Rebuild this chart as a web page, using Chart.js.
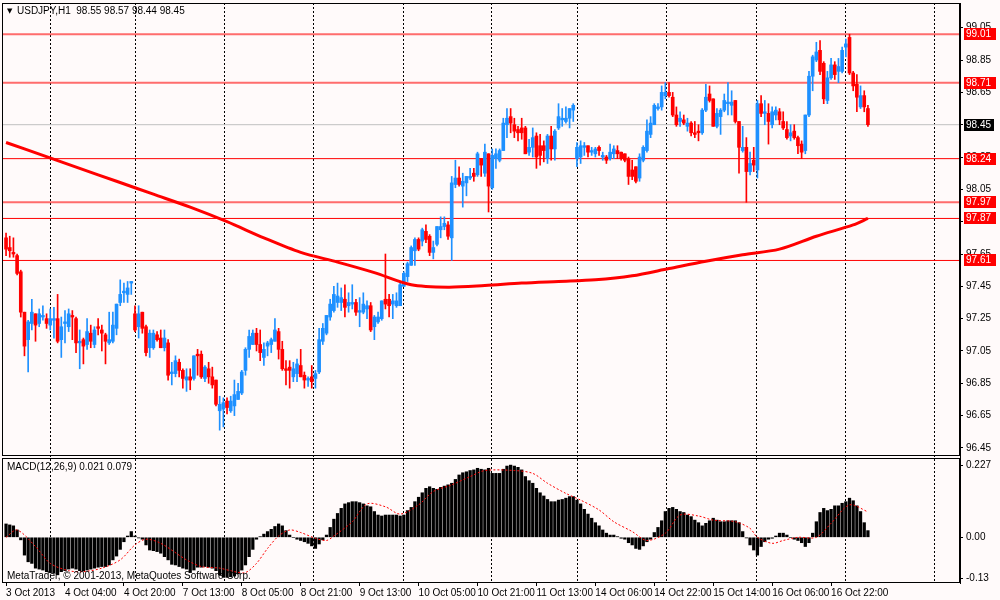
<!DOCTYPE html>
<html>
<head>
<meta charset="utf-8">
<script src="https://cdn.jsdelivr.net/npm/chart.js@4/dist/chart.umd.min.js"></script>
<style>
  html, body { margin: 0; padding: 0; background: #fffafa; }
  #chart { display: block; }
</style>
</head>
<body>
<canvas id="chart" width="1000" height="600"></canvas>
<script>
// USDJPY H1 candles (bar 0 = 3 Oct 2013)
const opens = [
  97.75,97.69,97.66,97.64,97.54,97.29,97.12,97.22,97.28,97.22,
  97.26,97.25,97.21,97.24,97.25,97.12,97.22,97.20,97.27,97.25,
  97.10,97.12,97.09,97.16,97.09,97.20,97.18,97.15,97.10,97.11,
  97.19,97.35,97.41,97.40,97.47,97.28,97.20,97.29,97.20,97.07,
  97.07,97.15,97.13,97.07,97.10,96.91,96.91,96.98,96.93,96.87,
  96.89,96.88,97.03,97.03,96.88,96.94,96.89,96.87,96.68,96.69,
  96.74,96.68,96.71,96.75,96.79,96.93,97.06,97.09,97.16,97.09,
  97.01,97.08,97.09,97.11,97.17,97.06,96.94,96.95,96.89,96.91,
  96.96,96.90,96.87,96.89,96.88,96.92,97.11,97.16,97.26,97.30,
  97.35,97.35,97.37,97.33,97.34,97.35,97.29,97.29,97.31,97.33,
  97.20,97.23,97.25,97.37,97.37,97.34,97.33,97.33,97.45,97.51,
  97.58,97.67,97.74,97.73,97.79,97.76,97.66,97.71,97.80,97.82,
  97.83,97.75,98.08,98.12,98.07,98.09,98.12,98.15,98.14,98.24,
  98.15,98.27,98.06,98.24,98.23,98.29,98.45,98.50,98.45,98.42,
  98.43,98.43,98.28,98.31,98.38,98.32,98.32,98.24,98.38,98.30,
  98.43,98.48,98.47,98.49,98.54,98.24,98.25,98.31,98.32,98.28,
  98.27,98.31,98.25,98.25,98.24,98.27,98.29,98.28,98.27,98.24,
  98.17,98.19,98.12,98.23,98.29,98.39,98.45,98.55,98.56,98.63,
  98.65,98.62,98.51,98.47,98.48,98.44,98.46,98.40,98.41,98.40,
  98.54,98.64,98.61,98.44,98.50,98.54,98.58,98.57,98.60,98.47,
  98.29,98.31,98.16,98.23,98.17,98.58,98.52,98.52,98.45,98.51,
  98.53,98.47,98.42,98.38,98.41,98.37,98.33,98.29,98.51,98.75,
  98.85,98.91,98.83,98.60,98.74,98.82,98.78,98.78,98.93,98.99,
  98.77,98.70,98.56,98.63,98.55
];
const highs = [
  97.78,97.76,97.75,97.65,97.55,97.29,97.24,97.37,97.28,97.31,
  97.33,97.28,97.31,97.32,97.40,97.26,97.30,97.31,97.30,97.26,
  97.18,97.13,97.25,97.21,97.20,97.25,97.21,97.16,97.29,97.29,
  97.34,97.49,97.47,97.48,97.48,97.33,97.33,97.29,97.21,97.18,
  97.18,97.17,97.18,97.18,97.12,96.98,97.02,97.00,96.94,96.94,
  96.94,97.02,97.06,97.05,96.96,96.98,96.95,96.87,96.77,96.76,
  96.76,96.77,96.87,96.85,96.93,97.07,97.18,97.18,97.19,97.18,
  97.10,97.11,97.13,97.25,97.19,97.11,96.99,96.99,96.98,97.00,
  97.06,96.92,96.89,96.96,96.93,97.19,97.22,97.27,97.37,97.45,
  97.47,97.44,97.46,97.41,97.46,97.37,97.38,97.41,97.36,97.35,
  97.27,97.29,97.36,97.65,97.40,97.40,97.41,97.48,97.54,97.60,
  97.70,97.75,97.75,97.81,97.83,97.77,97.73,97.82,97.88,97.88,
  97.85,98.13,98.23,98.19,98.15,98.13,98.18,98.18,98.28,98.24,
  98.33,98.27,98.30,98.30,98.30,98.49,98.55,98.55,98.49,98.44,
  98.49,98.44,98.36,98.43,98.40,98.39,98.35,98.39,98.44,98.42,
  98.58,98.55,98.56,98.55,98.58,98.34,98.35,98.34,98.32,98.31,
  98.31,98.32,98.28,98.26,98.33,98.32,98.32,98.28,98.27,98.25,
  98.23,98.19,98.27,98.32,98.48,98.50,98.58,98.58,98.69,98.71,
  98.71,98.65,98.56,98.53,98.51,98.49,98.47,98.47,98.45,98.55,
  98.70,98.69,98.61,98.55,98.55,98.64,98.71,98.66,98.60,98.47,
  98.44,98.37,98.28,98.31,98.60,98.63,98.60,98.58,98.56,98.56,
  98.55,98.53,98.47,98.45,98.45,98.38,98.35,98.51,98.78,98.88,
  98.96,98.97,98.84,98.78,98.86,98.84,98.86,98.93,98.98,99.01,
  98.78,98.76,98.69,98.66,98.57
];
const lows = [
  97.64,97.63,97.63,97.52,97.26,97.02,96.92,97.18,97.11,97.20,
  97.24,97.19,97.18,97.13,97.10,97.01,97.10,97.17,97.12,97.04,
  96.94,96.97,97.06,97.07,97.07,97.15,97.05,96.97,97.09,97.10,
  97.15,97.33,97.35,97.35,97.40,97.17,97.13,97.16,97.02,97.01,
  97.06,97.11,97.07,97.05,96.87,96.84,96.89,96.89,96.82,96.80,
  96.81,96.87,96.90,96.88,96.86,96.85,96.82,96.71,96.56,96.58,
  96.66,96.67,96.65,96.75,96.78,96.90,97.01,97.09,97.05,96.99,
  96.96,97.02,97.04,97.11,97.00,96.93,96.84,96.82,96.86,96.86,
  96.89,96.82,96.83,96.82,96.82,96.91,97.09,97.15,97.24,97.29,
  97.32,97.30,97.26,97.29,97.31,97.27,97.20,97.28,97.25,97.17,
  97.12,97.22,97.24,97.31,97.26,97.25,97.32,97.33,97.45,97.48,
  97.58,97.58,97.67,97.70,97.72,97.64,97.62,97.70,97.75,97.80,
  97.74,97.61,98.06,98.07,97.94,98.01,98.11,98.10,98.13,98.13,
  98.13,97.91,98.05,98.18,98.22,98.29,98.37,98.40,98.37,98.35,
  98.36,98.27,98.26,98.25,98.18,98.20,98.22,98.21,98.23,98.23,
  98.42,98.44,98.46,98.43,98.47,98.19,98.21,98.26,98.25,98.26,
  98.25,98.26,98.23,98.21,98.23,98.24,98.24,98.23,98.22,98.08,
  98.11,98.09,98.10,98.22,98.28,98.37,98.45,98.54,98.54,98.61,
  98.62,98.50,98.44,98.44,98.45,98.41,98.38,98.37,98.35,98.39,
  98.53,98.59,98.44,98.43,98.39,98.53,98.51,98.51,98.46,98.15,
  98.28,97.97,98.14,98.16,98.12,98.50,98.45,98.33,98.43,98.48,
  98.45,98.42,98.36,98.35,98.36,98.27,98.24,98.27,98.50,98.66,
  98.84,98.76,98.58,98.58,98.73,98.73,98.71,98.77,98.87,98.76,
  98.66,98.53,98.55,98.53,98.44
];
const closes = [
  97.68,97.67,97.65,97.53,97.29,97.08,97.23,97.29,97.21,97.28,
  97.27,97.22,97.25,97.25,97.11,97.20,97.23,97.28,97.26,97.10,
  97.11,97.08,97.17,97.11,97.18,97.19,97.16,97.11,97.12,97.21,
  97.34,97.40,97.42,97.44,97.48,97.18,97.28,97.19,97.04,97.16,
  97.16,97.12,97.07,97.13,96.90,96.92,96.99,96.93,96.88,96.89,
  96.87,97.02,97.02,96.89,96.95,96.89,96.84,96.72,96.72,96.73,
  96.70,96.74,96.78,96.80,96.92,97.06,97.14,97.16,97.09,97.04,
  97.06,97.10,97.12,97.18,97.06,96.94,96.93,96.93,96.94,96.97,
  96.89,96.87,96.88,96.86,96.91,97.12,97.19,97.27,97.34,97.40,
  97.39,97.38,97.32,97.35,97.35,97.29,97.30,97.34,97.33,97.18,
  97.26,97.26,97.36,97.34,97.33,97.36,97.36,97.46,97.53,97.59,
  97.69,97.74,97.68,97.80,97.74,97.66,97.69,97.82,97.82,97.84,
  97.76,98.09,98.12,98.08,98.10,98.13,98.13,98.13,98.27,98.20,
  98.28,98.07,98.26,98.27,98.29,98.46,98.49,98.46,98.41,98.40,
  98.40,98.27,98.31,98.37,98.25,98.26,98.29,98.38,98.30,98.41,
  98.50,98.49,98.49,98.55,98.57,98.31,98.32,98.32,98.28,98.29,
  98.30,98.29,98.26,98.23,98.28,98.30,98.27,98.24,98.23,98.13,
  98.13,98.10,98.25,98.31,98.41,98.46,98.57,98.56,98.65,98.65,
  98.63,98.51,98.45,98.49,98.46,98.46,98.40,98.39,98.40,98.54,
  98.62,98.60,98.44,98.52,98.54,98.60,98.59,98.59,98.47,98.31,
  98.31,98.16,98.21,98.20,98.58,98.52,98.53,98.47,98.53,98.54,
  98.48,98.43,98.37,98.40,98.37,98.32,98.28,98.51,98.75,98.87,
  98.90,98.78,98.61,98.74,98.82,98.76,98.81,98.91,98.95,98.77,
  98.69,98.62,98.63,98.56,98.45
];

// moving average (thick red line), sampled at these bars
const maIdx = [0,10,20,30,40,50,60,70,80,90,100,110,120,130,140,150,160,170,180,190,200,210,220,230,234];
const maVal = [98.34,98.26,98.18,98.10,98.02,97.94,97.85,97.75,97.66,97.60,97.535,97.46,97.445,97.455,97.47,97.48,97.49,97.515,97.56,97.605,97.645,97.68,97.76,97.83,97.87];

// MACD(12,26,9) histogram, one value per bar
const macdHist = [
  0.042,0.039,0.036,0.023,-0.008,-0.056,-0.077,-0.082,-0.097,-0.100,
  -0.103,-0.108,-0.111,-0.113,-0.118,-0.108,-0.105,-0.100,-0.097,-0.100,
  -0.105,-0.106,-0.103,-0.100,-0.097,-0.094,-0.092,-0.092,-0.087,-0.071,
  -0.059,-0.038,-0.014,0.004,0.018,0.004,-0.002,-0.006,-0.024,-0.040,
  -0.042,-0.045,-0.050,-0.061,-0.071,-0.085,-0.087,-0.092,-0.097,-0.100,
  -0.111,-0.103,-0.094,-0.094,-0.092,-0.094,-0.097,-0.105,-0.118,-0.126,
  -0.126,-0.124,-0.122,-0.115,-0.103,-0.087,-0.061,-0.038,-0.006,0.002,
  0.010,0.018,0.025,0.034,0.042,0.036,0.021,0.007,0.000,-0.006,
  -0.010,-0.014,-0.019,-0.027,-0.035,-0.021,-0.008,0.007,0.031,0.057,
  0.075,0.091,0.105,0.109,0.112,0.112,0.109,0.105,0.099,0.096,
  0.081,0.070,0.067,0.070,0.070,0.070,0.070,0.067,0.070,0.084,
  0.094,0.112,0.126,0.140,0.154,0.159,0.154,0.151,0.157,0.161,
  0.165,0.170,0.182,0.196,0.203,0.206,0.210,0.212,0.217,0.214,
  0.212,0.217,0.201,0.201,0.201,0.214,0.224,0.227,0.224,0.220,
  0.212,0.191,0.178,0.170,0.154,0.140,0.130,0.119,0.112,0.112,
  0.117,0.119,0.123,0.128,0.128,0.117,0.105,0.088,0.073,0.060,
  0.046,0.036,0.023,0.013,0.007,0.007,0.002,-0.003,-0.006,-0.017,
  -0.024,-0.035,-0.038,-0.027,-0.014,-0.006,0.015,0.031,0.052,0.081,
  0.091,0.094,0.088,0.081,0.078,0.070,0.065,0.054,0.046,0.036,
  0.044,0.052,0.060,0.054,0.049,0.049,0.052,0.052,0.052,0.046,
  0.018,-0.002,-0.024,-0.040,-0.056,-0.029,-0.014,-0.006,-0.003,0.004,
  0.013,0.013,0.007,0.000,-0.006,-0.010,-0.017,-0.029,-0.017,0.013,
  0.049,0.078,0.091,0.084,0.088,0.099,0.099,0.107,0.112,0.123,
  0.115,0.099,0.081,0.046,0.021
];

// MACD signal line (red dotted), sampled at these bars
const sigIdx = [0,3,8,12,17,21,26,31,35,38,42,49,53,58,62,65,68,71,74,77,80,84,87,89,94,98,103,107,112,116,121,126,130,138,143,147,152,156,161,165,170,174,179,183,188,192,198,202,204,208,211,215,220,224,229,234];
const sigVal = [0.000,0.023,-0.029,-0.082,-0.105,-0.108,-0.097,-0.071,-0.024,-0.006,-0.019,-0.071,-0.092,-0.097,-0.108,-0.111,-0.082,-0.035,0.004,0.023,0.015,-0.003,-0.010,0.004,0.049,0.105,0.096,0.073,0.102,0.144,0.165,0.191,0.210,0.210,0.201,0.170,0.138,0.117,0.086,0.049,0.018,-0.010,0.013,0.070,0.067,0.054,0.049,0.028,0.000,-0.019,-0.010,0.000,0.000,0.044,0.102,0.080];

// horizontal price levels and the current bid
const levelPrices = [99.01, 98.71, 98.24, 97.97, 97.87, 97.61];
const levelLight = [true, true, false, true, false, false];
const bidPrice = 98.45;

// axis ticks
const priceTicks = [99.05, 98.85, 98.65, 98.45, 98.25, 98.05, 97.85, 97.65, 97.45, 97.25, 97.05, 96.85, 96.65, 96.45];
const macdTicks = [0.227, 0, -0.13];
const macdTickLabels = ['0.227', '0.00', '-0.13'];
const timeIdx = [0,16,32,48,64,80,96,112,128,144,160,176,192,208,224];
const timeLabels = ['3 Oct 2013','4 Oct 04:00','4 Oct 20:00','7 Oct 13:00','8 Oct 05:00','8 Oct 21:00','9 Oct 13:00','10 Oct 05:00','10 Oct 21:00','11 Oct 13:00','14 Oct 06:00','14 Oct 22:00','15 Oct 14:00','16 Oct 06:00','16 Oct 22:00'];
const gridIdx = [12.0, 35.1, 59.2, 83.5, 107.8, 131.9, 155.2, 179.4, 203.7, 227.9, 252.0];

const titleText = 'USDJPY,H1  98.55 98.57 98.44 98.45';
const macdText = 'MACD(12,26,9) 0.021 0.079';
const copyText = 'MetaTrader, \u00a9 2001-2013, MetaQuotes Software Corp.';

const upColor = '#1e90ff';
const downColor = '#ff0000';
const bg = '#fffafa';
const xMin = -1.1, xMax = 259.0;

const candleColors = closes.map((c, i) => c >= opens[i] ? upColor : downColor);
const bodies = opens.map((o, i) => ({ x: i, y: [o, closes[i]] }));
const wicks = lows.map((l, i) => ({ x: i, y: [l, highs[i]] }));

Chart.defaults.font.family = "'Liberation Sans', Arial, sans-serif";
Chart.defaults.font.size = 10;
Chart.defaults.color = '#000';

// no label overhang padding, so the panes keep their exact place
function noPad(s) {
  s.paddingTop = 0; s.paddingBottom = 0; s.paddingLeft = 0; s.paddingRight = 0;
}

const levelSets = levelPrices.map((p, k) => ({
  type: 'line',
  data: [{ x: xMin, y: p }, { x: xMax, y: p }],
  yAxisID: 'y',
  borderColor: levelLight[k] ? 'rgba(255,60,60,0.75)' : '#ff0000',
  borderWidth: levelLight[k] ? 2 : 1,
  pointRadius: 0,
  order: 5,
}));

const panelPlugin = {
  id: 'panels',
  beforeDraw(chart) {
    const ctx = chart.ctx;
    ctx.save();
    ctx.fillStyle = bg;
    ctx.fillRect(0, 0, chart.width, chart.height);
    ctx.restore();
  },
  afterDraw(chart) {
    const { ctx, chartArea, scales } = chart;
    const y = scales.y, y2 = scales.y2;
    const L = chartArea.left, R = chartArea.right;
    ctx.save();
    ctx.strokeStyle = '#000';
    ctx.lineWidth = 1;
    ctx.strokeRect(L + 0.5, y.top + 0.5, R - L - 1, y.bottom - y.top - 2);
    ctx.strokeRect(L + 0.5, y2.top + 1.5, R - L - 1, y2.bottom - y2.top - 2);

    // price level boxes on the right
    ctx.font = "10px 'Liberation Sans', Arial, sans-serif";
    ctx.textBaseline = 'middle';
    ctx.textAlign = 'left';
    levelPrices.forEach(p => {
      const py = Math.round(y.getPixelForValue(p));
      ctx.fillStyle = '#ff0000';
      ctx.fillRect(R + 4, py - 6, 32, 12);
      ctx.fillStyle = '#fff';
      ctx.fillText(p.toFixed(2), R + 6, py + 0.5);
    });
    const by = Math.round(y.getPixelForValue(bidPrice));
    ctx.fillStyle = '#000';
    ctx.fillRect(R + 4, by - 6, 30, 12);
    ctx.fillStyle = '#fff';
    ctx.fillText(bidPrice.toFixed(2), R + 6, by + 0.5);

    // texts
    ctx.fillStyle = '#000';
    ctx.font = "7px 'DejaVu Sans', sans-serif";
    ctx.fillText('\u25bc', L + 5, y.top + 8);
    ctx.font = "10px 'Liberation Sans', Arial, sans-serif";
    ctx.fillText(titleText, L + 15, y.top + 8);
    ctx.fillText(macdText, L + 5, y2.top + 10);
    ctx.fillText(copyText, L + 5, y2.bottom - 7);
    ctx.restore();
  }
};

new Chart(document.getElementById('chart').getContext('2d'), {
  type: 'bar',
  data: {
    datasets: [
      {
        type: 'line',
        data: maIdx.map((v, i) => ({ x: v, y: maVal[i] })),
        yAxisID: 'y',
        borderColor: '#ff0000',
        borderWidth: 3,
        pointRadius: 0,
        tension: 0.3,
        order: 0,
      },
      {
        data: bodies,
        yAxisID: 'y',
        backgroundColor: candleColors,
        barThickness: 3,
        minBarLength: 1,
        grouped: false,
        order: 1,
      },
      {
        data: wicks,
        yAxisID: 'y',
        backgroundColor: candleColors,
        barThickness: 1,
        grouped: false,
        order: 2,
      },
      {
        type: 'line',
        data: sigIdx.map((v, i) => ({ x: v, y: sigVal[i] })),
        yAxisID: 'y2',
        borderColor: '#ff0000',
        borderWidth: 1,
        borderDash: [2, 2],
        pointRadius: 0,
        tension: 0.3,
        order: 0,
      },
      {
        data: macdHist.map((v, i) => ({ x: i, y: v })),
        yAxisID: 'y2',
        backgroundColor: '#000',
        barThickness: 2.6,
        grouped: false,
        order: 3,
      },
      ...levelSets,
      {
        type: 'line',
        data: [{ x: xMin, y: bidPrice }, { x: xMax, y: bidPrice }],
        yAxisID: 'y',
        borderColor: '#c0c0c0',
        borderWidth: 1,
        pointRadius: 0,
        order: 6,
      },
    ],
  },
  options: {
    responsive: false,
    animation: false,
    events: [],
    layout: { autoPadding: false, padding: { top: 3, left: 2, right: 0, bottom: 0 } },
    plugins: {
      legend: { display: false },
      tooltip: { enabled: false },
    },
    scales: {
      x: {
        type: 'linear',
        position: 'bottom',
        offset: false,
        min: xMin,
        max: xMax,
        afterBuildTicks: s => { s.ticks = timeIdx.map(v => ({ value: v })); },
        afterFit: s => { s.height = 17; noPad(s); },
        ticks: {
          align: 'start',
          autoSkip: false,
          maxRotation: 0,
          padding: 1,
          callback: (v, i) => timeLabels[i],
        },
        grid: { offset: false, drawOnChartArea: false, drawTicks: true, tickLength: 3, color: '#000' },
        border: { display: false },
      },
      x2: {
        type: 'linear',
        position: 'top',
        offset: false,
        min: xMin,
        max: xMax,
        afterBuildTicks: s => { s.ticks = gridIdx.map(v => ({ value: v })); },
        afterFit: s => { s.height = 0; noPad(s); },
        ticks: { display: false },
        grid: { offset: false, drawTicks: false, color: '#000', lineWidth: 1 },
        border: { display: false, dash: [2, 2] },
      },
      y: {
        type: 'linear',
        position: 'right',
        stack: 'panes',
        stackWeight: 454,
        min: 96.394,
        max: 99.203,
        afterBuildTicks: s => { s.ticks = priceTicks.map(v => ({ value: v })); },
        afterFit: s => { s.width = 40; noPad(s); },
        ticks: { padding: 3, callback: v => v.toFixed(2) },
        grid: { drawOnChartArea: false, drawTicks: true, tickLength: 3, color: '#000' },
        border: { display: true, color: '#000' },
      },
      y2: {
        type: 'linear',
        position: 'right',
        stack: 'panes',
        stackWeight: 126,
        min: -0.1437,
        max: 0.2525,
        afterBuildTicks: s => { s.ticks = macdTicks.map(v => ({ value: v })); },
        afterFit: s => { s.width = 40; noPad(s); },
        ticks: { padding: 3, callback: (v, i) => macdTickLabels[i] },
        grid: { drawOnChartArea: false, drawTicks: true, tickLength: 3, color: '#000' },
        border: { display: true, color: '#000' },
      },
    },
  },
  plugins: [panelPlugin],
});
</script>
</body>
</html>
